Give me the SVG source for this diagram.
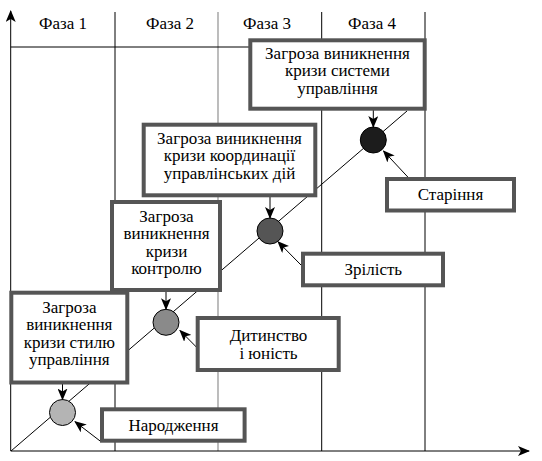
<svg xmlns="http://www.w3.org/2000/svg" width="542" height="461" viewBox="0 0 542 461">
<style>
.t{font-family:'Liberation Serif','Times New Roman',serif;font-size:17px;fill:#000;text-anchor:middle}
.box{fill:#fff;stroke:#555;stroke-width:4}
.grid{stroke:#000;stroke-width:1;fill:none}
.c{stroke:#000;stroke-width:1}
.a{stroke:#000;stroke-width:1;fill:none;marker-end:url(#ah)}
</style>
<defs>
<marker id="ah" viewBox="0 0 12 10" refX="11" refY="5" markerWidth="12" markerHeight="10" markerUnits="userSpaceOnUse" orient="auto">
<path d="M0,0 L12,5 L0,10 L3,5 Z" fill="#000"/>
</marker>
</defs>
<rect width="542" height="461" fill="#fff"/>
<g id="grid">
<line class="grid" x1="115" y1="12" x2="115" y2="451"/>
<line x1="218" y1="12" x2="218" y2="451" stroke="#999" stroke-width="1.3"/>
<line class="grid" x1="321.7" y1="12" x2="321.7" y2="451"/>
<line class="grid" x1="425" y1="12" x2="425" y2="451"/>
<line class="grid" x1="10.7" y1="47" x2="425" y2="47"/>
<line class="a" x1="10.7" y1="451" x2="10.7" y2="11"/>
<line class="a" x1="10.7" y1="451" x2="529" y2="451"/>
<line class="grid" x1="11" y1="451" x2="407" y2="111"/>
<text class="t" x="63" y="29">Фаза 1</text>
<text class="t" x="170" y="29">Фаза 2</text>
<text class="t" x="267" y="29">Фаза 3</text>
<text class="t" x="372" y="29">Фаза 4</text>
</g>
<g id="circles">
<circle id="c1" class="c" cx="62.5" cy="412.5" r="13" fill="#b4b4b4"/>
<circle id="c2" class="c" cx="166" cy="322.3" r="13" fill="#8a8a8a"/>
<circle id="c3" class="c" cx="270" cy="231" r="13" fill="#555"/>
<circle id="c4" class="c" cx="373.3" cy="140" r="13" fill="#1c1c1c"/>
</g>
<g id="connectors">
<line class="a" x1="373.3" y1="110" x2="373.3" y2="127"/>
<line class="a" x1="270" y1="197" x2="270" y2="218"/>
<line class="a" x1="166" y1="292" x2="166" y2="309.3"/>
<line class="a" x1="62.5" y1="384" x2="62.5" y2="399.5"/>
<line class="a" x1="407.8" y1="177" x2="383.5" y2="151"/>
<line class="a" x1="301" y1="265" x2="278" y2="241.7"/>
<line class="a" x1="197" y1="347.7" x2="180" y2="330.5"/>
<line class="a" x1="101" y1="441.7" x2="75" y2="421.7"/>
</g>
<g id="n-systemy">
<rect class="box" x="250.3" y="40.3" width="174.4" height="68.4"/>
<text class="t" x="337.5" y="58.5">Загроза виникнення</text>
<text class="t" x="337.5" y="76">кризи системи</text>
<text class="t" x="337.5" y="93.5">управління</text>
</g>
<g id="n-koord">
<rect class="box" x="143.7" y="124.7" width="171.6" height="70.6"/>
<text class="t" x="229.5" y="143.8">Загроза виникнення</text>
<text class="t" x="229.5" y="161.2">кризи координації</text>
<text class="t" x="229.5" y="178.8">управлінських дій</text>
</g>
<g id="n-kontrol">
<rect class="box" x="112" y="202" width="108" height="88"/>
<text class="t" x="166.5" y="221.5">Загроза</text>
<text class="t" x="166.5" y="239">виникнення</text>
<text class="t" x="166.5" y="256.5">кризи</text>
<text class="t" x="166.5" y="274">контролю</text>
</g>
<g id="n-styl">
<rect class="box" x="11.3" y="292.7" width="116" height="89.8"/>
<text class="t" x="69.3" y="313">Загроза</text>
<text class="t" x="69.3" y="330.3">виникнення</text>
<text class="t" x="69.3" y="347.6">кризи стилю</text>
<text class="t" x="69.3" y="365.3">управління</text>
</g>
<g id="n-starinnia">
<rect class="box" x="387" y="179" width="127" height="31.5"/>
<text class="t" x="450.5" y="200">Старіння</text>
</g>
<g id="n-zrilist">
<rect class="box" x="303" y="253.7" width="140" height="31.6"/>
<text class="t" x="373.3" y="274.5">Зрілість</text>
</g>
<g id="n-dytynstvo">
<rect class="box" x="197.7" y="318" width="141" height="52"/>
<text class="t" x="268.5" y="341">Дитинство</text>
<text class="t" x="268.5" y="358.5">і юність</text>
</g>
<g id="n-narodzhennia">
<rect class="box" x="102" y="409.3" width="142.6" height="31.4"/>
<text class="t" x="173.5" y="431">Народження</text>
</g>
</svg>
